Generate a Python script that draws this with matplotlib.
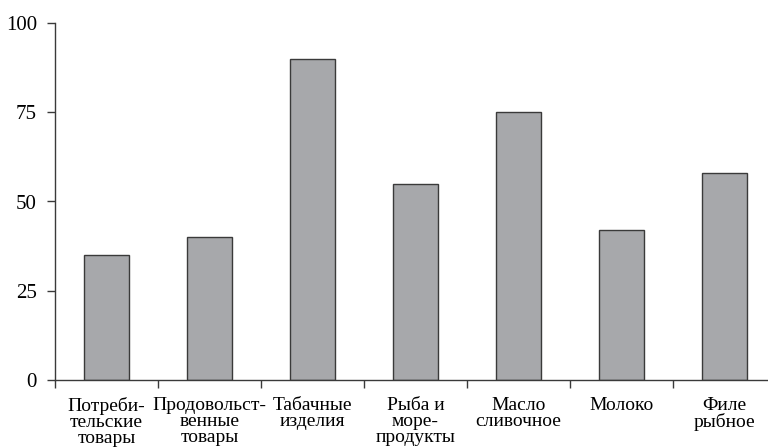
import numpy as np
import matplotlib.pyplot as plt

categories = ['Потреби-\nтельские\nтовары', 'Продовольст-\nвенные\nтовары',
              'Табачные\nизделия', 'Рыба и\nморе-\nпродукты',
              'Масло\nсливочное', 'Молоко', 'Филе\nрыбное']
values = [35, 40, 90, 55, 75, 42, 58]
y_ticks = [0, 25, 50, 75, 100]

plt.rcParams['font.family'] = ['Liberation Serif', 'DejaVu Serif']

fig = plt.figure(figsize=(7.68, 4.48), dpi=100)
ax = fig.add_axes([55 / 768, 68 / 448, 721 / 768, 357 / 448])

x = np.arange(len(values))
ax.bar(x, values, width=0.44, color='#a7a8ab', edgecolor='#3a3a3a', linewidth=1.0)

ax.set_xlim(-0.5, len(values) - 0.5)
ax.set_ylim(0, 100)
ax.set_yticks(y_ticks)
ax.set_xticks(np.arange(len(values) + 1) - 0.5)
ax.set_xticklabels([])
ax.set_xticks(x, minor=True)
ax.set_xticklabels(categories, minor=True, fontsize=14, linespacing=0.95)

ax.tick_params(axis='x', which='major', direction='out', length=6, width=1.0, color='#3a3a3a')
ax.tick_params(axis='x', which='minor', length=0, pad=12)
ax.tick_params(axis='y', direction='out', length=6, width=1.0, color='#3a3a3a', labelsize=15, pad=7)

for s in ['top', 'right']:
    ax.spines[s].set_visible(False)
for s in ['left', 'bottom']:
    ax.spines[s].set_color('#3a3a3a')
    ax.spines[s].set_linewidth(1.0)

fig.savefig('out.png', dpi=100)
